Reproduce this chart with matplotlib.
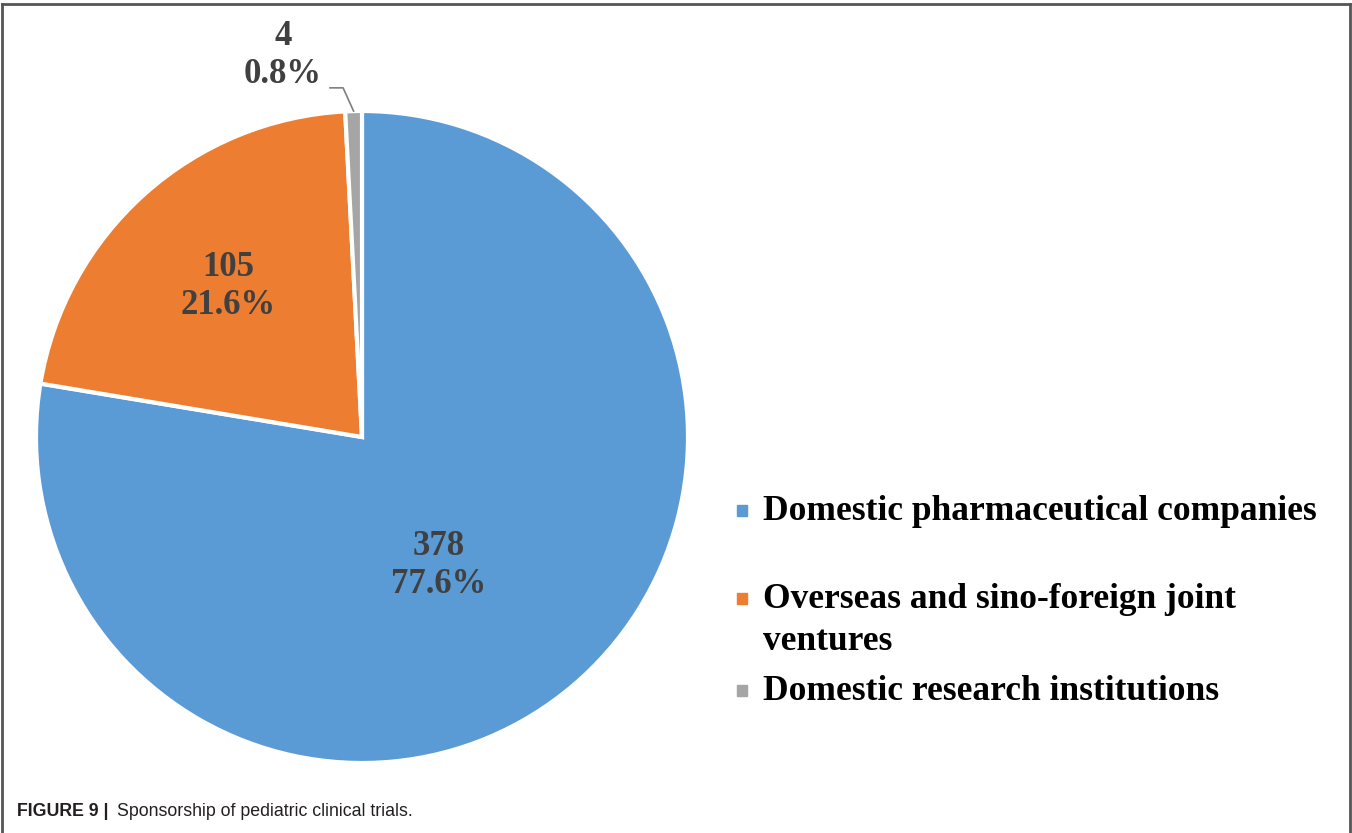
import matplotlib.pyplot as plt
import numpy as np
from matplotlib.patches import Rectangle
from matplotlib.lines import Line2D

# sponsorship counts
categories = ['Domestic pharmaceutical companies',
              'Overseas and sino-foreign joint\nventures',
              'Domestic research institutions']
counts = [378, 105, 4]
percents = ['77.6%', '21.6%', '0.8%']
colors = ['#5B9BD5', '#ED7D31', '#A5A5A5']

W, H = 1352, 833
fig = plt.figure(figsize=(W / 100, H / 100), dpi=100)

# pie axes: centre (362, 437) px, radius 326 px
cx, cy, r = 362, 437, 326
ax = fig.add_axes([(cx - r) / W, (H - cy - r) / H, 2 * r / W, 2 * r / H])
wedges, _ = ax.pie(counts, colors=colors, startangle=90, counterclock=False,
                   wedgeprops=dict(edgecolor='white', linewidth=3))
ax.set_xlim(-1, 1)
ax.set_ylim(-1, 1)

lab_color = '#404040'
lab_font = dict(family='Liberation Serif', weight='bold', size=25,
                color=lab_color, ha='center', va='center', linespacing=1.2)
label_pos = [(0.236, -0.395), (-0.411, 0.462), (-0.242, 1.17)]
for (x, y), n, p in zip(label_pos, counts, percents):
    ax.text(x, y, f'{n}\n{p}', **lab_font)

# leader line for the small slice
w = wedges[2]
mid = np.deg2rad((w.theta1 + w.theta2) / 2)
ex, ey = np.cos(mid), np.sin(mid)
ax.plot([-0.098, -0.058, ex], [1.071, 1.071, ey], color='#7f7f7f', lw=1.2,
        clip_on=False)

# legend drawn by hand so the marker sits on the first line
leg_font = dict(family='Liberation Serif', weight='bold', size=25.5,
                color='black', va='baseline', ha='left')
leg_y = [520, 608, 700]
line_gap = 42
for yy, lab, c in zip(leg_y, categories, colors):
    fig.patches.append(Rectangle((737 / W, 1 - (yy - 4) / H), 10 / W, 11 / H,
                                 transform=fig.transFigure, color=c))
    for k, part in enumerate(lab.split('\n')):
        fig.text(763 / W, 1 - (yy + k * line_gap) / H, part, **leg_font)

# caption
fig.text(17 / W, 1 - 816 / H, 'FIGURE 9 |', family='Liberation Sans',
         weight='bold', size=12.8, color='#231f20')
fig.text(117 / W, 1 - 816 / H, 'Sponsorship of pediatric clinical trials.',
         family='Liberation Sans', size=12.8, color='#231f20')

# frame
for xs, ys in [([2, 2], [833, 4]), ([2, 1350], [4, 4]), ([1350, 1350], [4, 833])]:
    fig.add_artist(Line2D([x / W for x in xs], [1 - y / H for y in ys],
                          transform=fig.transFigure, color='#555555', lw=2))

fig.savefig('out.png', dpi=100, facecolor='white')
